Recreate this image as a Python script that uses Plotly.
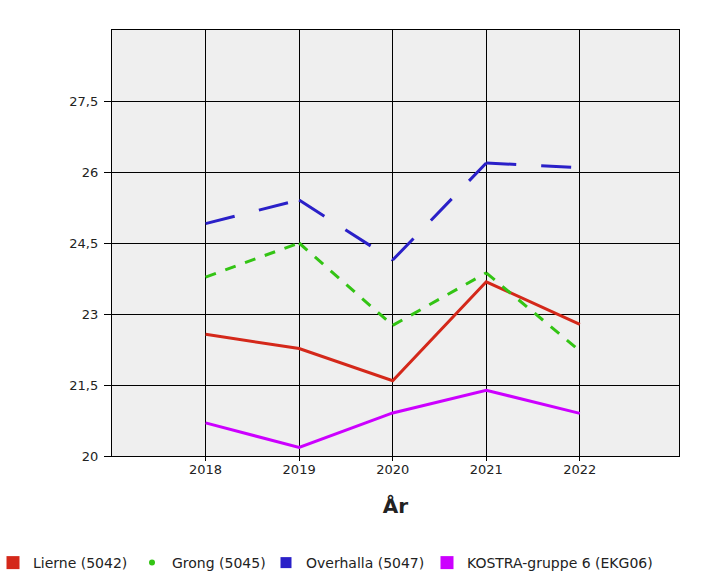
import plotly.graph_objects as go

years = [2018, 2019, 2020, 2021, 2022]
lierne = [22.57, 22.27, 21.59, 23.68, 22.78]
grong = [23.78, 24.50, 22.76, 23.87, 22.22]
overhalla = [24.91, 25.41, 24.14, 26.19, 26.09]
kostra = [20.70, 20.18, 20.91, 21.39, 20.90]

y_ticks = [20, 21.5, 23, 24.5, 26, 27.5]
y_labels = ["20", "21,5", "23", "24,5", "26", "27,5"]

series = [
    ("Lierne (5042)", lierne, "#d4281a", "solid", "square", 13),
    ("Grong (5045)", grong, "#33c414", "11px,10px", "circle", 6),
    ("Overhalla (5047)", overhalla, "#2a20c8", "30px,25px", "square", 11),
    ("KOSTRA-gruppe 6 (EKG06)", kostra, "#cc00ff", "solid", "square", 13),
]
legend_px = [-7, 132, 266, 427]  # left edge of each legend box, figure px

fig = go.Figure()

# the lines: dashed ones drawn segment by segment so the dash pattern restarts at each year
for name, vals, col, dash, sym, sz in series:
    if dash == "solid":
        fig.add_trace(go.Scatter(x=years, y=vals, mode="lines", name=name,
                                 line=dict(color=col, width=3),
                                 showlegend=False))
    else:
        for i in range(len(years) - 1):
            fig.add_trace(go.Scatter(x=years[i:i + 2], y=vals[i:i + 2], mode="lines",
                                     name=name, line=dict(color=col, width=3, dash=dash),
                                     showlegend=False))

# legend entries (square / dot symbols), one legend per entry so they can be spaced
legends = {}
for i, (name, vals, col, dash, sym, sz) in enumerate(series):
    key = "legend" if i == 0 else "legend%d" % (i + 1)
    fig.add_trace(go.Scatter(x=[None], y=[None], mode="markers", name=name,
                             legend=key,
                             marker=dict(color=col, symbol=sym, size=sz)))
    legends[key] = dict(orientation="h",
                        x=(legend_px[i] - 112) / 567, xanchor="left",
                        y=-0.2512, yanchor="middle",
                        bgcolor="rgba(0,0,0,0)",
                        font=dict(family="DejaVu Sans", size=14, color="#222222"))

fig.update_layout(
    width=707, height=576,
    margin=dict(l=112, r=28, t=30, b=120, autoexpand=False),
    paper_bgcolor="white",
    plot_bgcolor="#efefef",
    font=dict(family="DejaVu Sans", size=13, color="#222222"),
    **legends,
)

fig.update_xaxes(range=[2017, 2023.06], tickvals=years, showgrid=True,
                 gridcolor="black", gridwidth=1.3, zeroline=False,
                 showline=True, linecolor="black", linewidth=1.3, mirror=True,
                 ticks="outside", ticklen=4, tickcolor="black", ticklabelstandoff=-3,
                 title=dict(text="<b>År</b>", font=dict(size=20, color="#222222"), standoff=23))
fig.update_yaxes(range=[20, 29], tickvals=y_ticks, ticktext=y_labels, showgrid=True,
                 gridcolor="black", gridwidth=1.3, zeroline=False,
                 showline=True, linecolor="black", linewidth=1.3, mirror=True,
                 ticks="outside", ticklen=7, tickcolor="black", ticklabelstandoff=3)

fig.write_html("out.html", config={"displayModeBar": False},
               post_script="document.body.style.margin='0px';")
